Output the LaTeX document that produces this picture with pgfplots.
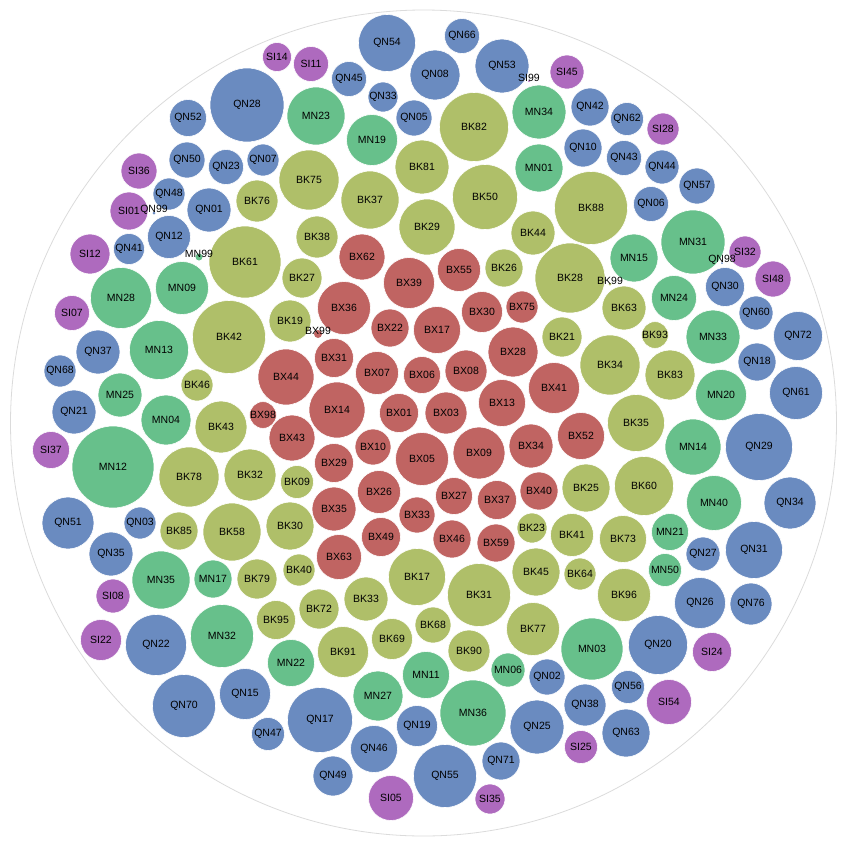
\documentclass[border=0pt]{standalone}
\usepackage{fontspec}
\setmainfont{Liberation Sans}
\usepackage{pgfplots}
\pgfplotsset{compat=1.18}
\definecolor{bxcol}{HTML}{C06462}
\definecolor{bkcol}{HTML}{AFBF69}
\definecolor{mncol}{HTML}{67C08B}
\definecolor{qncol}{HTML}{6A8BC0}
\definecolor{sicol}{HTML}{AE6ABE}
\newcommand\lblfont{\fontsize{10.5}{12}\selectfont}
\pgfplotsset{
  bubble/.style={
    only marks, mark=*, mark size=0pt,
    mark options={draw=none, fill=none},
    visualization depends on={\thisrow{r} \as \rad},
    visualization depends on={value \thisrow{label} \as \lbl},
    nodes near coords={\lbl},
    every node near coord/.append style={anchor=center, circle, fill=#1, draw=white,
      line width=0.6pt, minimum size=2*\rad pt, inner sep=0pt, text=black,
      font=\lblfont},
  },
  tinybubble/.style={
    only marks, mark=*, mark size=0pt,
    mark options={draw=none, fill=none},
    visualization depends on={\thisrow{r} \as \rad},
    visualization depends on={value \thisrow{label} \as \lbl},
    nodes near coords={},
    every node near coord/.append style={anchor=center, circle, fill=#1, draw=none,
      minimum size=2*\rad pt, inner sep=0pt,
      label={[font=\lblfont, text=black, inner sep=0pt, yshift=3pt]center:\lbl}},
  },
}
\begin{document}
\begin{tikzpicture}
\begin{axis}[x=1pt, y=1pt, y dir=reverse, xmin=0, xmax=847, ymin=0, ymax=847,
  hide axis, clip=false]
\path (axis cs:0,0) rectangle (axis cs:847,847);
\addplot[only marks, mark=o, mark size=413, mark options={draw=black!14, line width=0.8pt}] coordinates {(423.5,423)};
\addplot[bubble=bxcol] table {
x y r label
362 257 23 BX62
409 283 25.5 BX39
459 270 21.5 BX55
344 308 26.5 BX36
390 328 19 BX22
437 330 23.5 BX17
482 312 20.5 BX30
522 307 16 BX75
334 358 19.5 BX31
377 373 21.5 BX07
422 375 18.5 BX06
466 371 21 BX08
513 352 25 BX28
554 388 25.5 BX41
286 377 28 BX44
337 410 28 BX14
399 413 19.5 BX01
446 413 21 BX03
502 403 23.5 BX13
581 436 23.5 BX52
263 415 12.5 BX98
292 438 23 BX43
373 447 18 BX10
422 459 26.5 BX05
479 453 26 BX09
531 446 22 BX34
334 463 19.5 BX29
379 492 21.5 BX26
454 496 18.5 BX27
497 500 19.5 BX37
539 491 19 BX40
334 509 22 BX35
417 515 18 BX33
381 537 19.5 BX49
452 539 19 BX46
496 543 19 BX59
339 557 22.5 BX63
};
\addplot[bubble=bkcol] table {
x y r label
257 201 21 BK76
245 262 36 BK61
309 180 30 BK75
370 200 29 BK37
422 167 27 BK81
474 127 34.5 BK82
485 197 32.5 BK50
317 237 21 BK38
427 227 28 BK29
533 233 22 BK44
302 278 20 BK27
504 268 19 BK26
570 278 35 BK28
591 208 36.5 BK88
229 337 36.5 BK42
290 321 21 BK19
562 337 20 BK21
624 308 22 BK63
655 335 13 BK93
610 365 30 BK34
670 375 25 BK83
197 385 16 BK46
221 427 26 BK43
636 423 28.5 BK35
189 477 30 BK78
250 475 26 BK32
297 482 16.5 BK09
586 488 24 BK25
644 486 29.5 BK60
179 531 19 BK85
232 532 29 BK58
290 526 24 BK30
532 528 15 BK23
572 535 21.5 BK41
623 539 23.5 BK73
257 579 20 BK79
299 570 16 BK40
417 577 28.5 BK17
479 595 31.5 BK31
536 572 24 BK45
580 574 16 BK64
624 595 26.5 BK96
276 620 19.5 BK95
319 609 20 BK72
366 599 22 BK33
433 625 18 BK68
392 639 20.5 BK69
533 629 26.5 BK77
343 652 25.5 BK91
469 651 21 BK90
};
\addplot[bubble=mncol] table {
x y r label
316 116 29 MN23
372 140 25.5 MN19
539 112 27 MN34
539 168 24 MN01
693 242 32 MN31
634 258 24 MN15
674 298 22.5 MN24
182 288 26.5 MN09
121 298 30.5 MN28
159 350 29.5 MN13
713 337 27 MN33
120 395 22 MN25
166 420 25 MN04
721 395 25.5 MN20
693 447 28 MN14
113 467 41 MN12
714 503 27.5 MN40
670 532 18.5 MN21
665 570 16.5 MN50
161 580 29 MN35
213 579 19 MN17
222 636 31.5 MN32
291 663 23.5 MN22
592 649 31 MN03
426 675 23.5 MN11
508 670 17 MN06
378 696 25 MN27
473 713 33 MN36
};
\addplot[bubble=qncol] table {
x y r label
247 105 37 QN28
188 118 18.5 QN52
187 160 18 QN50
226 167 17.5 QN23
263 160 16 QN07
169 194 16 QN48
209 210 22 QN01
169 237 21.5 QN12
129 249 15.5 QN41
387 43 28.5 QN54
349 79 17.5 QN45
383 97 15 QN33
462 36 17.5 QN66
435 75 25 QN08
502 66 27 QN53
414 118 18 QN05
590 107 19 QN42
627 119 16.5 QN62
583 148 19 QN10
624 158 17.5 QN43
662 167 17 QN44
697 186 18 QN57
651 204 17.5 QN06
725 287 19.5 QN30
756 313 17 QN60
798 336 24.5 QN72
757 362 19 QN18
796 393 26.5 QN61
759 447 33.5 QN29
790 503 26 QN34
703 554 17 QN27
754 550 28.5 QN31
700 603 25.5 QN26
751 604 21 QN76
658 645 29.5 QN20
547 677 18 QN02
628 687 16.5 QN56
585 705 21 QN38
537 727 27 QN25
626 733 24 QN63
98 352 22 QN37
60 371 16 QN68
74 412 22 QN21
68 523 26 QN51
140 523 16 QN03
111 554 22 QN35
156 645 30.5 QN22
184 706 31.5 QN70
245 694 25.5 QN15
268 734 16.5 QN47
320 720 32.5 QN17
417 726 20.5 QN19
374 749 23.5 QN46
333 776 20 QN49
445 776 31.5 QN55
501 761 19 QN71
};
\addplot[bubble=sicol] table {
x y r label
277 57 14.5 SI14
311 64 17.5 SI11
567 72 17 SI45
663 129 16 SI28
139 171 18 SI36
129 211 19 SI01
90 254 20 SI12
745 252 16 SI32
773 279 18 SI48
72 313 17.5 SI07
51 450 18.5 SI37
113 596 17 SI08
101 640 20.5 SI22
712 652 19.5 SI24
669 702 22.5 SI54
581 747 16.5 SI25
391 798 22.5 SI05
490 799 15 SI35
};
\addplot[tinybubble=bxcol] table {
x y r label
318 334 4 BX99
};
\addplot[tinybubble=bkcol] table {
x y r label
610 284 1.5 BK99
};
\addplot[tinybubble=mncol] table {
x y r label
199 257 3.5 MN99
};
\addplot[tinybubble=qncol] table {
x y r label
154 213 1.5 QN99
722 263 1 QN98
};
\addplot[tinybubble=sicol] table {
x y r label
529 81 1 SI99
};
\end{axis}
\end{tikzpicture}
\end{document}
